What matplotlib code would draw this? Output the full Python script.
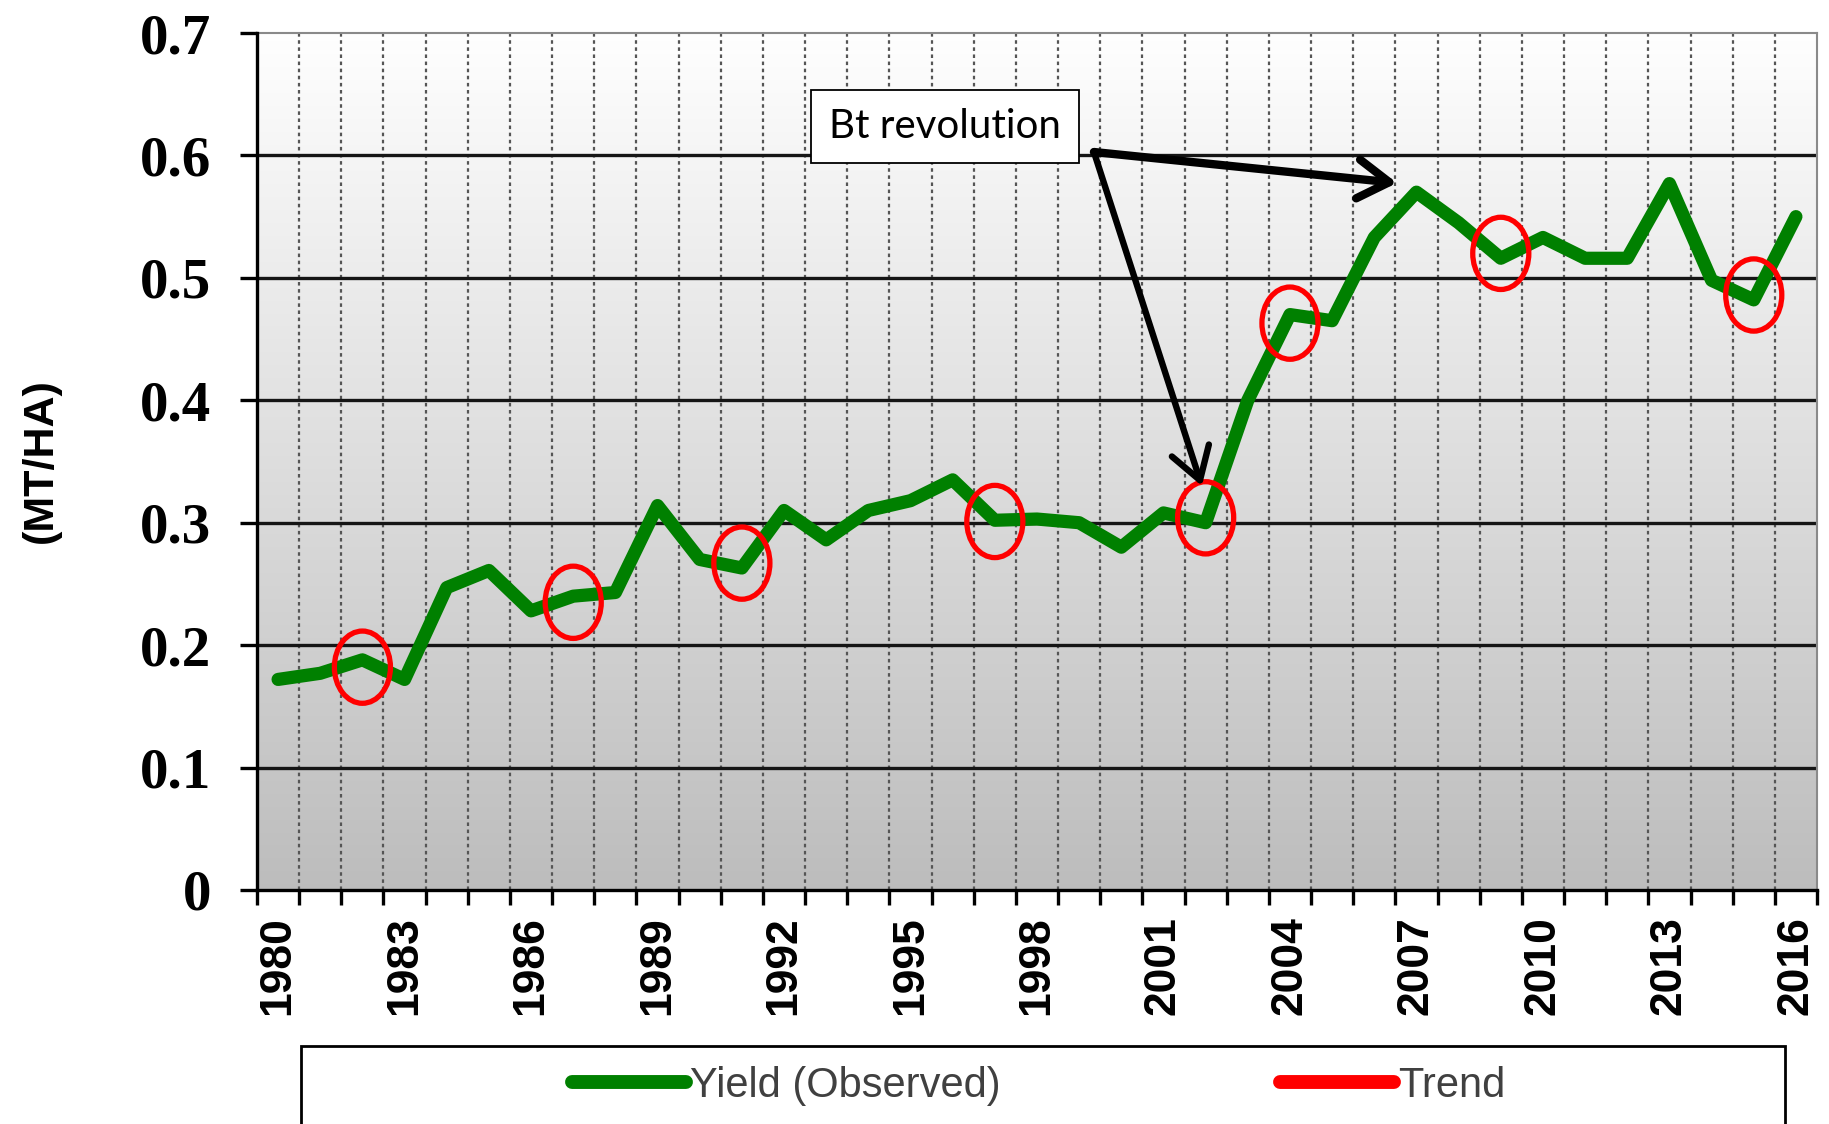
import numpy as np
import matplotlib
matplotlib.use("Agg")
import matplotlib.pyplot as plt
from matplotlib.patches import Ellipse, Rectangle, ArrowStyle
from matplotlib.lines import Line2D

# data
years = list(range(1980, 2017))
yield_obs = [0.172, 0.177, 0.188, 0.172, 0.247, 0.261, 0.228, 0.240, 0.243, 0.314,
             0.270, 0.263, 0.310, 0.286, 0.310, 0.318, 0.335, 0.302, 0.303, 0.300,
             0.280, 0.308, 0.300, 0.400, 0.470, 0.465, 0.533, 0.570, 0.545, 0.516,
             0.533, 0.516, 0.516, 0.577, 0.498, 0.482, 0.550]
trend_years = [1982, 1987, 1991, 1997, 2002, 2004, 2009, 2015]
trend_vals = [0.182, 0.235, 0.267, 0.301, 0.304, 0.463, 0.520, 0.486]
label_years = years[::3]
yticks = [0, 0.1, 0.2, 0.3, 0.4, 0.5, 0.6, 0.7]
ytick_labels = ["0", "0.1", "0.2", "0.3", "0.4", "0.5", "0.6", "0.7"]

fig = plt.figure(figsize=(18.29, 11.24), dpi=100)
ax = fig.add_axes([257/1829, 1-890/1124, 1560/1829, 857/1124])

# gradient background
grad = np.linspace(0.74, 0.998, 256).reshape(-1, 1)[::-1]
ax.imshow(np.dstack([grad, grad, grad]), extent=[0, 1, 0, 1], transform=ax.transAxes,
          aspect="auto", zorder=0, interpolation="bicubic")

ax.set_xlim(1979.5, 2016.5)
ax.set_ylim(0, 0.7)

# vertical dashed grid at category boundaries
bounds = np.arange(1980.5, 2016.5, 1)
ax.vlines(bounds, 0, 0.7, colors="#555555", linestyles=(0, (1.6, 1.6)), lw=1.6, zorder=1)
ax.hlines(yticks[1:-1], 1979.5, 2016.5, colors="#151515", lw=2.4, zorder=1)

ax.plot(years, yield_obs, color="#008000", lw=9.5, solid_joinstyle="round",
        solid_capstyle="round", zorder=3)

for yr, v in zip(trend_years, trend_vals):
    ax.add_patch(Ellipse((yr, v), 1.33, 0.059, fill=False, edgecolor="#ff0000",
                         lw=3.8, zorder=4))

# annotation
ax.text(1995.82, 0.6236, "Bt revolution", fontsize=29, family="Lato", ha="center",
        va="center", zorder=6,
        bbox=dict(boxstyle="square,pad=0.45", fc="white", ec="black", lw=1.3))
arr = ArrowStyle("->", head_length=0.45, head_width=0.28)
ax.annotate("", xy=(2006.54, 0.5775), xytext=(1999.35, 0.6028),
            arrowprops=dict(arrowstyle=arr, mutation_scale=50, linewidth=6.0,
                            color="black", shrinkA=0, shrinkB=0,
                            capstyle="round", joinstyle="round"), zorder=6)
ax.annotate("", xy=(2001.91, 0.330), xytext=(1999.35, 0.6028),
            arrowprops=dict(arrowstyle=arr, mutation_scale=50, linewidth=4.6,
                            color="black", shrinkA=0, shrinkB=0,
                            capstyle="round", joinstyle="round"), zorder=6)

# axes styling
for s in ["left", "bottom"]:
    ax.spines[s].set_linewidth(2.4)
    ax.spines[s].set_color("black")
for s in ["top", "right"]:
    ax.spines[s].set_linewidth(1.5)
    ax.spines[s].set_color("#8a8a8a")
ax.spines["left"].set_zorder(5)
ax.spines["bottom"].set_zorder(5)

ax.set_xticks(label_years)
ax.set_xticklabels([str(y) for y in label_years], rotation=90, fontsize=32,
                   fontweight="bold", family="Liberation Sans")
ax.set_xticks(np.arange(1979.5, 2017, 1), minor=True)
ax.tick_params(axis="x", which="major", length=0, pad=19)
ax.tick_params(axis="x", which="minor", length=11, width=2.4, direction="out")

ax.set_yticks(yticks)
ax.set_yticklabels(ytick_labels, fontsize=41, fontweight="bold", family="Liberation Serif")
ax.tick_params(axis="y", length=12, width=2.4, direction="out", pad=21)

fig.text(41/1829, 0.59, "(MT/HA)", rotation=90, ha="center", va="center",
         fontsize=31, fontweight="bold", family="Liberation Sans")

# legend
fig.patches.append(Rectangle((301/1829, -0.05), (1785-301)/1829, 0.0694+0.05,
                             transform=fig.transFigure, fc="white", ec="black", lw=2))
handles = [Line2D([], [], color="#008000", lw=10, solid_capstyle="round"),
           Line2D([], [], color="#ff0000", lw=10, solid_capstyle="round")]
fig.legend(handles, ["Yield (Observed)", "Trend"], loc="center",
           bbox_to_anchor=(0.568, 0.034), ncol=2, frameon=False,
           prop=dict(family="Liberation Sans", size=30), labelcolor="#404040",
           handlelength=2.73, handletextpad=0.1, columnspacing=6.7)

fig.savefig("out.png", dpi=100)
